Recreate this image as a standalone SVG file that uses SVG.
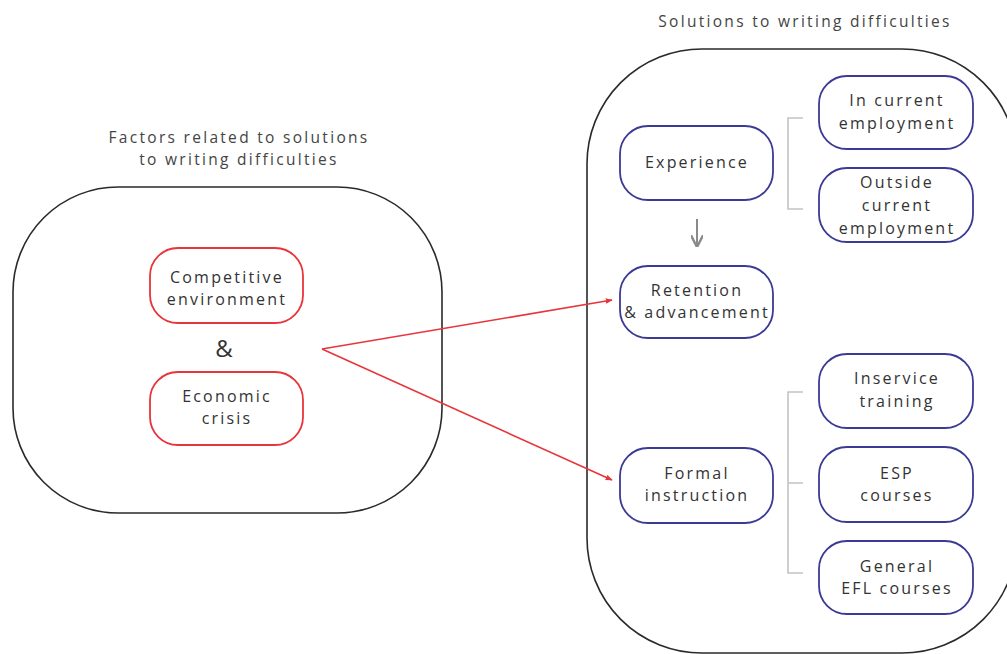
<svg xmlns="http://www.w3.org/2000/svg" width="1007" height="654" viewBox="0 0 1007 654">
  <style>
    .bg { fill: #ffffff; }
    .group { fill: none; stroke: #2a2a2a; stroke-width: 1.6; }
    .title { font-family: "Open Sans", "DejaVu Sans", sans-serif; font-size: 15.5px; letter-spacing: 2.3px; fill: #444444; text-anchor: middle; }
    .lbl { font-family: "Open Sans", "DejaVu Sans", sans-serif; font-size: 16px; letter-spacing: 2.2px; fill: #333333; text-anchor: middle; }
    .amp { font-family: "Open Sans", "DejaVu Sans", sans-serif; font-size: 24px; fill: #333333; text-anchor: middle; }
    .red { fill: #ffffff; stroke: #e8353b; stroke-width: 1.8; }
    .blue { fill: #ffffff; stroke: #3b3a94; stroke-width: 1.8; }
    .bracket { fill: none; stroke: #c4c4c4; stroke-width: 1.6; }
    .redline { fill: none; stroke: #e8353b; stroke-width: 1.6; }
    .grayline { fill: none; stroke: #8a8a8a; stroke-width: 2; }
  </style>
  <defs>
    <marker id="arrRed" viewBox="0 0 10 10" refX="9" refY="5" markerWidth="7" markerHeight="7" orient="auto" markerUnits="userSpaceOnUse">
      <path d="M0,1 L10,5 L0,9 Z" fill="#e8353b"/>
    </marker>
    <marker id="arrGray" viewBox="0 0 10 10" refX="9" refY="5" markerWidth="12" markerHeight="12" orient="auto" markerUnits="userSpaceOnUse">
      <path d="M0,0 L10,5 L0,10" fill="none" stroke="#8a8a8a" stroke-width="2"/>
    </marker>
  </defs>
  <rect class="bg" x="0" y="0" width="1007" height="654"/>

  <!-- left container -->
  <g id="factors">
    <text class="title" x="239" y="143">Factors related to solutions</text>
    <text class="title" x="239" y="165">to writing difficulties</text>
    <rect class="group" x="13" y="187" width="429" height="326" rx="105" ry="105"/>
  </g>

  <g id="competitive">
    <rect class="red" x="150" y="248" width="153" height="75" rx="28" ry="28"/>
    <text class="lbl" x="227" y="283">Competitive</text>
    <text class="lbl" x="227" y="305">environment</text>
  </g>
  <text class="amp" x="224" y="357">&amp;</text>
  <g id="economic">
    <rect class="red" x="150" y="372" width="153" height="73" rx="28" ry="28"/>
    <text class="lbl" x="227" y="402">Economic</text>
    <text class="lbl" x="227" y="424">crisis</text>
  </g>

  <!-- right container -->
  <g id="solutions">
    <text class="title" x="805" y="27">Solutions to writing difficulties</text>
    <rect class="group" x="587" y="49" width="430" height="604" rx="115" ry="115"/>
  </g>

  <g id="experience">
    <rect class="blue" x="620" y="126" width="153" height="74" rx="28" ry="28"/>
    <text class="lbl" x="697" y="168">Experience</text>
  </g>
  <g id="retention">
    <rect class="blue" x="620" y="266" width="153" height="72" rx="28" ry="28"/>
    <text class="lbl" x="697" y="296">Retention</text>
    <text class="lbl" x="697" y="318">&amp; advancement</text>
  </g>
  <g id="formal">
    <rect class="blue" x="620" y="448" width="153" height="75" rx="28" ry="28"/>
    <text class="lbl" x="697" y="479">Formal</text>
    <text class="lbl" x="697" y="501">instruction</text>
  </g>
  <g id="in-current">
    <rect class="blue" x="819" y="76" width="154" height="73" rx="28" ry="28"/>
    <text class="lbl" x="897" y="106">In current</text>
    <text class="lbl" x="897" y="129">employment</text>
  </g>
  <g id="outside-current">
    <rect class="blue" x="819" y="168" width="154" height="74" rx="28" ry="28"/>
    <text class="lbl" x="897" y="188">Outside</text>
    <text class="lbl" x="897" y="211">current</text>
    <text class="lbl" x="897" y="234">employment</text>
  </g>
  <g id="inservice">
    <rect class="blue" x="819" y="354" width="154" height="74" rx="28" ry="28"/>
    <text class="lbl" x="897" y="384">Inservice</text>
    <text class="lbl" x="897" y="407">training</text>
  </g>
  <g id="esp">
    <rect class="blue" x="819" y="447" width="154" height="75" rx="28" ry="28"/>
    <text class="lbl" x="897" y="479">ESP</text>
    <text class="lbl" x="897" y="501">courses</text>
  </g>
  <g id="general-efl">
    <rect class="blue" x="819" y="541" width="154" height="73" rx="28" ry="28"/>
    <text class="lbl" x="897" y="572">General</text>
    <text class="lbl" x="897" y="594">EFL courses</text>
  </g>

  <!-- connectors -->
  <g id="connectors">
    <path class="redline" d="M322,349 L612,300" marker-end="url(#arrRed)"/>
    <path class="redline" d="M322,349 L612,480" marker-end="url(#arrRed)"/>
    <path class="grayline" d="M697,219 L697,246" marker-end="url(#arrGray)"/>
    <path class="bracket" d="M803,118 L788,118 L788,209 L803,209"/>
    <path class="bracket" d="M803,392 L788,392 L788,573 L803,573 M788,483 L803,483"/>
  </g>
</svg>
